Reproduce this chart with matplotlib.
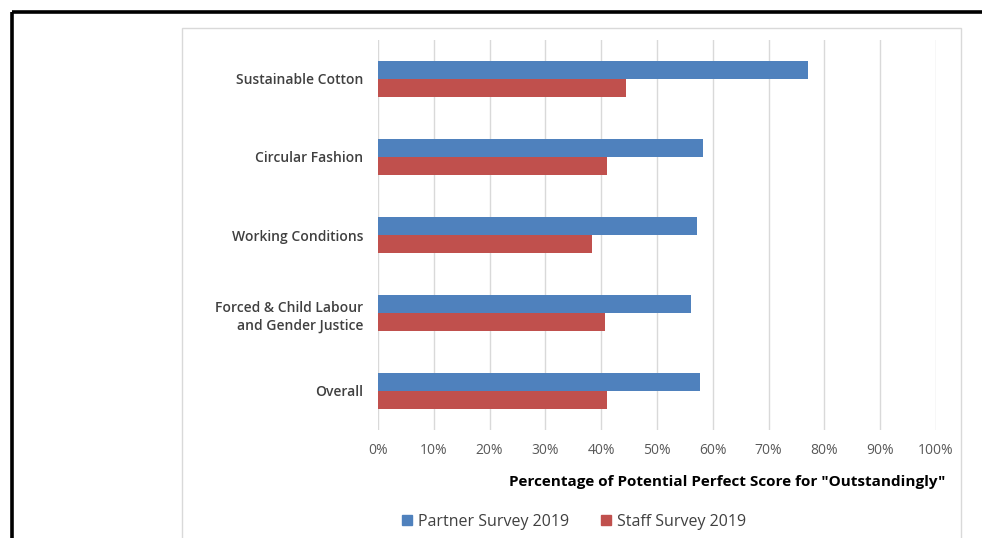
import matplotlib
matplotlib.use("Agg")
import matplotlib.pyplot as plt
from matplotlib.patches import Rectangle
from matplotlib.lines import Line2D
import numpy as np

plt.rcParams['font.family'] = ['Open Sans', 'DejaVu Sans']

categories = ["Sustainable Cotton", "Circular Fashion", "Working Conditions",
              "Forced & Child Labour\nand Gender Justice", "Overall"]
partner_2019 = [77.0, 58.2, 57.2, 56.1, 57.7]
staff_2019 = [44.4, 41.0, 38.4, 40.7, 41.0]
xticks = list(range(0, 101, 10))
xtick_labels = [f"{t}%" for t in xticks]
series_names = ["Partner Survey 2019", "Staff Survey 2019"]
series_colors = ["#4F81BD", "#C0504D"]

W, H = 982, 538
fig = plt.figure(figsize=(W / 100, H / 100), dpi=100)

def fx(px):
    return px / W

def fy(py):
    return 1 - py / H

# outer black frame (top and left edges)
fig.add_artist(Line2D([fx(11.5), 1.0], [fy(11.5), fy(11.5)], color="black", lw=2.6,
                      transform=fig.transFigure, solid_capstyle="butt"))
fig.add_artist(Line2D([fx(11.5), fx(11.5)], [fy(11.5), 0.0], color="black", lw=2.6,
                      transform=fig.transFigure, solid_capstyle="butt"))

# chart area border
fig.add_artist(Rectangle((fx(182), fy(545)), fx(961 - 182), (545 - 28) / H,
                         transform=fig.transFigure, fill=False,
                         edgecolor="#D9D9D9", lw=1.0))

ax = fig.add_axes([fx(378), fy(430), fx(936 - 378), (430 - 40) / H])

y = np.arange(len(categories))
bh = 0.23
ax.barh(y - bh / 2, partner_2019, height=bh, color=series_colors[0], zorder=3)
ax.barh(y + bh / 2, staff_2019, height=bh, color=series_colors[1], zorder=3)

ax.set_xlim(0, 100)
ax.set_ylim(len(categories) - 0.5, -0.5)
ax.set_xticks(xticks)
ax.set_xticklabels(xtick_labels, fontsize=10, color="#595959")
ax.set_yticks(y)
ax.set_yticklabels(categories, fontsize=10, color="#404040", fontweight="semibold",
                   linespacing=1.35)
ax.tick_params(axis="both", length=0)
ax.tick_params(axis="x", pad=9)
ax.tick_params(axis="y", pad=10.5)
for s in ax.spines.values():
    s.set_visible(False)
ax.grid(axis="x", color="#D9D9D9", lw=1.0, zorder=0)
ax.set_axisbelow(True)

fig.text(fx(945), fy(482), 'Percentage of Potential Perfect Score for "Outstandingly"',
         ha="right", va="center", fontsize=11, fontweight="bold", color="black")

# legend
handles = [Rectangle((0, 0), 1, 1, color=c) for c in series_colors]
fig.legend(handles, series_names, loc="center", bbox_to_anchor=(fx(574), fy(522)),
           ncol=2, frameon=False, fontsize=11.5, handlelength=0.6, handleheight=0.6,
           handletextpad=0.4, columnspacing=2.0, labelcolor="#404040")

fig.savefig("out.png", dpi=100)
